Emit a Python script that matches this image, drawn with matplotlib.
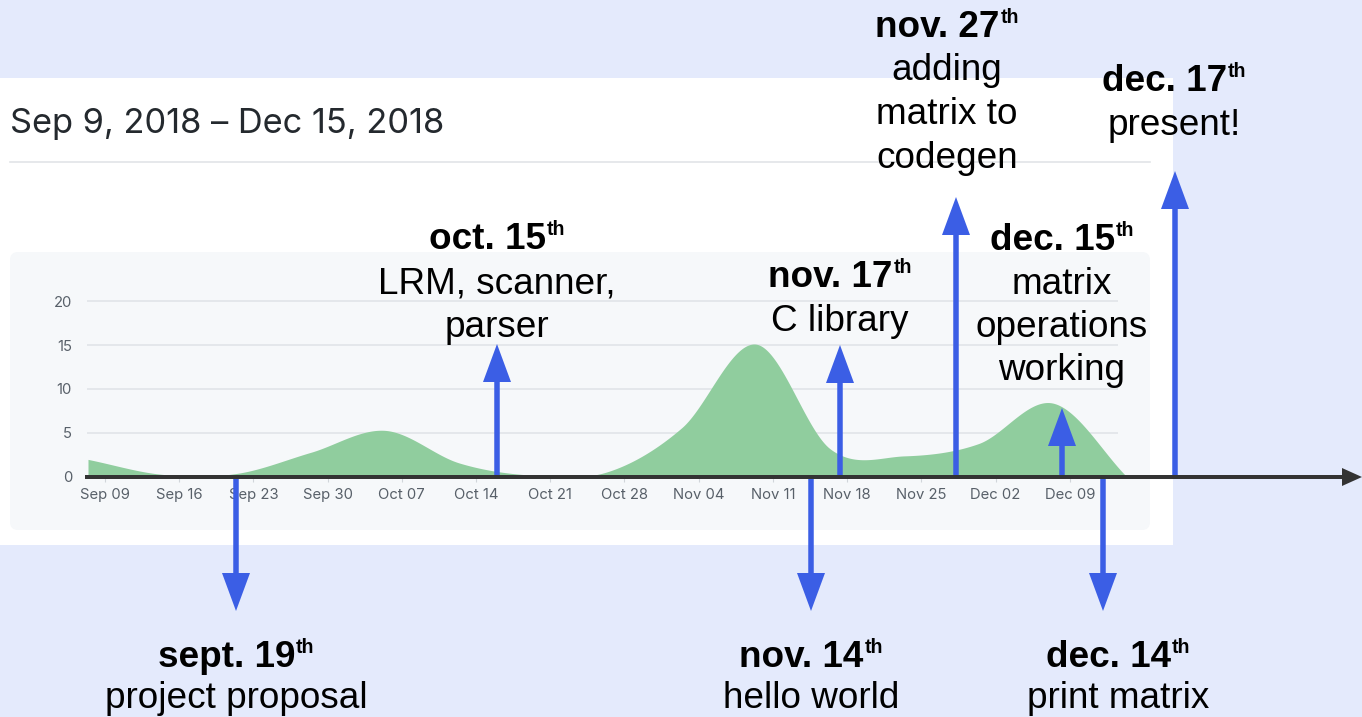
import numpy as np
import matplotlib
matplotlib.use("Agg")
import matplotlib.pyplot as plt
from matplotlib.patches import Rectangle, FancyBboxPatch, FancyArrow

# ---------------- data ----------------
week_index = list(range(15))
commits = [2.0, 0.3, 0.4, 2.8, 5.3, 1.6, 0.2, 0.6, 5.6, 15.1, 3.2, 2.4, 3.8, 8.4, 0.0]
tick_labels = ["Sep 09", "Sep 16", "Sep 23", "Sep 30", "Oct 07", "Oct 14", "Oct 21",
               "Oct 28", "Nov 04", "Nov 11", "Nov 18", "Nov 25", "Dec 02", "Dec 09"]
y_ticks = [0, 5, 10, 15, 20]
title = "Sep 9, 2018 \u2013 Dec 15, 2018"

ms_dates = ["sept. 19", "oct. 15", "nov. 14", "nov. 17", "nov. 27", "dec. 14", "dec. 15", "dec. 17"]
ms_sup = ["th"] * 8
ms_lines = [["project proposal"], ["LRM, scanner,", "parser"], ["hello world"], ["C library"],
            ["adding", "matrix to", "codegen"], ["print matrix"],
            ["matrix", "operations", "working"], ["present!"]]

# ---------------- layout (pixels) ----------------
W, H = 1362, 717
arrow_x = [236, 497, 811, 840, 956, 1103, 1062, 1175]
arrow_tip = [611, 344, 611, 345, 197, 611, 408, 171]
label_x = [236, 497, 811, 840, 947, 1118, 1062, 1174]
label_base = [667, 249, 667, 287, 37, 667, 250, 91]
line_gap = [41, 44, 41, 44, 43.5, 41, 43.5, 44]
AXIS_Y = 477

BLUE = "#3b5ee5"
SLIDE_BG = "#e4eafc"
GREEN = "#90cd9e"

fig = plt.figure(figsize=(W / 100, H / 100), dpi=100)


def fig_rect(l, t, r, b):
    return [l / W, 1 - b / H, (r - l) / W, (b - t) / H]


# background layer
bg = fig.add_axes([0, 0, 1, 1], zorder=0)
bg.set_xlim(0, W)
bg.set_ylim(H, 0)
bg.axis("off")
bg.add_patch(Rectangle((0, 0), W, H, color=SLIDE_BG, lw=0))
bg.add_patch(Rectangle((0, 78), 1173, 467, color="white", lw=0))
bg.add_patch(FancyBboxPatch((10, 252), 1140, 278, boxstyle="round,pad=0,rounding_size=8",
                            fc="#f6f8fa", ec="none"))
bg.plot([10, 1150], [162, 162], color="#e1e4e8", lw=1.2)
bg.text(10, 133, title, fontsize=24.8, family=["Inter", "DejaVu Sans"], color="#24292e",
        va="baseline")


# chart layer: smooth (Catmull-Rom) rendering of the weekly values
def catmull_rom(x, y, xs):
    x = np.asarray(x, float)
    y = np.asarray(y, float)
    yp = np.concatenate([[2 * y[0] - y[1]], y, [2 * y[-1] - y[-2]]])
    idx = np.clip(np.searchsorted(x, xs) - 1, 0, len(x) - 2)
    t = (xs - x[idx]) / (x[idx + 1] - x[idx])
    p0, p1, p2, p3 = yp[idx], yp[idx + 1], yp[idx + 2], yp[idx + 3]
    return 0.5 * ((2 * p1) + (-p0 + p2) * t + (2 * p0 - 5 * p1 + 4 * p2 - p3) * t**2
                  + (-p0 + 3 * p1 - 3 * p2 + p3) * t**3)


ax = fig.add_axes(fig_rect(88, 301, 1127, AXIS_Y), zorder=1)
ax.patch.set_visible(False)
ax.set_xlim(week_index[0], week_index[-1])
ax.set_ylim(0, 20)
for s in ax.spines.values():
    s.set_visible(False)
ax.hlines(y_ticks[1:], -0.013, 13.88, color="#e1e4e8", lw=1.2, clip_on=False, zorder=0)
xs = np.linspace(week_index[0], week_index[-1], 800)
ys = np.clip(catmull_rom(week_index, commits, xs), 0, None)
ax.fill_between(xs, 0, ys, color=GREEN, lw=0, zorder=1)
ax.set_xticks(np.array(week_index[:len(tick_labels)]) + 0.229)
ax.set_xticklabels(tick_labels)
ax.set_yticks(y_ticks)
ax.tick_params(axis="x", length=3.6, width=0.8, color="#d1d5da", pad=4.5,
               labelsize=10.7, labelcolor="#586069")
ax.tick_params(axis="y", length=0, pad=11.5, labelsize=10.7, labelcolor="#586069")
for lab in ax.get_xticklabels() + ax.get_yticklabels():
    lab.set_family(["Inter", "DejaVu Sans"])

# foreground layer: arrows and annotations
fg = fig.add_axes([0, 0, 1, 1], zorder=2)
fg.patch.set_visible(False)
fg.set_xlim(0, W)
fg.set_ylim(H, 0)
fg.axis("off")

for x, tip in zip(arrow_x, arrow_tip):
    fg.add_patch(FancyArrow(x, AXIS_Y, 0, tip - AXIS_Y, width=5.5, head_width=28, head_length=38,
                            length_includes_head=True, color=BLUE, lw=0))
fg.add_patch(FancyArrow(85, AXIS_Y, W - 85, 0, width=4, head_width=18, head_length=20,
                        length_includes_head=True, color="#333333", lw=0))

FS = 26.6
fig.canvas.draw()
renderer = fig.canvas.get_renderer()
for date, sup, lines, lx, base, gap in zip(ms_dates, ms_sup, ms_lines, label_x, label_base, line_gap):
    t1 = fg.text(0, base, date, fontsize=FS, weight="bold", family="Liberation Sans",
                 color="black", va="baseline", ha="left")
    t2 = fg.text(0, base - 14, sup, fontsize=FS * 0.53, weight="bold", family="Liberation Sans",
                 color="black", va="baseline", ha="left")
    w1 = t1.get_window_extent(renderer).width
    w2 = t2.get_window_extent(renderer).width
    left = lx - (w1 + w2 + 1) / 2
    t1.set_x(left)
    t2.set_x(left + w1 + 1)
    for i, line in enumerate(lines):
        fg.text(lx, base + gap * (i + 1), line, fontsize=FS, family="Liberation Sans",
                color="black", va="baseline", ha="center")

fig.savefig("out.png", dpi=100)
